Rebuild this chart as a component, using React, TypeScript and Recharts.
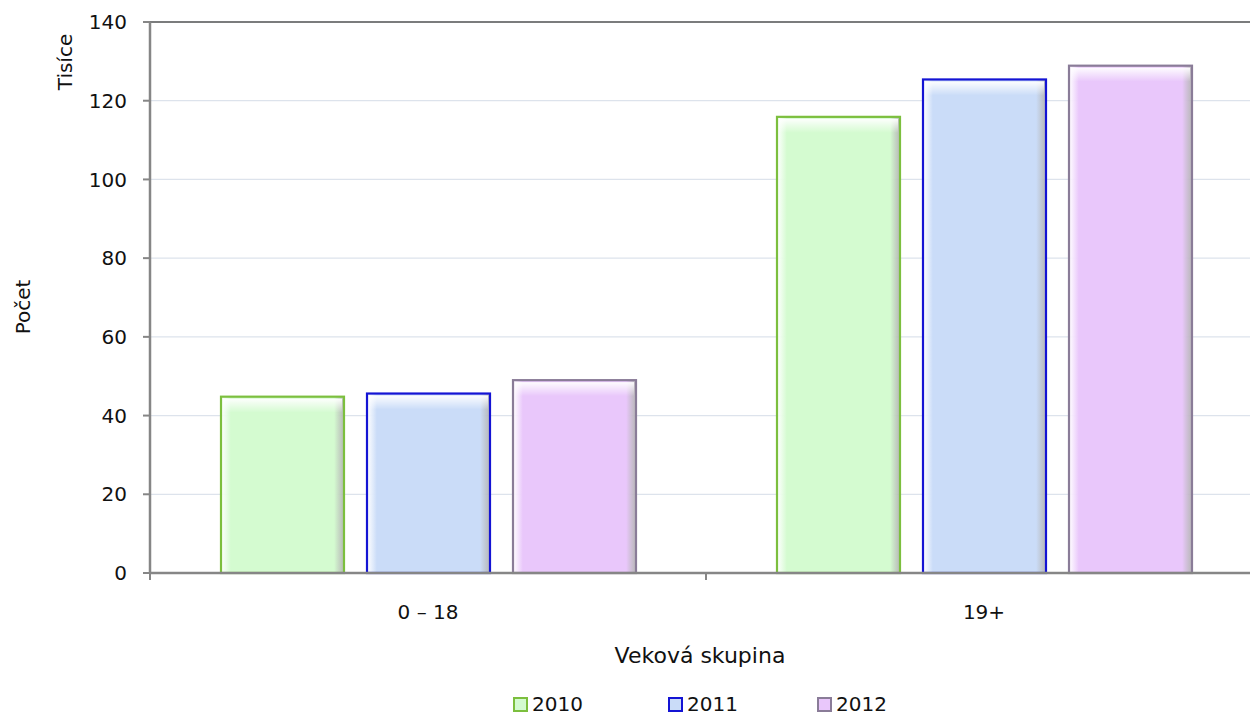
import React from 'react';
import { BarChart, Bar, XAxis, YAxis, CartesianGrid, ReferenceLine } from 'recharts';

const categories = ['0 – 18', '19+'];
const series2010 = [44.8, 115.9];
const series2011 = [45.6, 125.4];
const series2012 = [49.0, 128.9];
const yTicks = [0, 20, 40, 60, 80, 100, 120, 140];
const seriesNames = ['2010', '2011', '2012'];

const data = categories.map((c, i) => ({
  cat: c,
  '2010': series2010[i],
  '2011': series2011[i],
  '2012': series2012[i],
}));

const FONT = '"DejaVu Sans", sans-serif';
const FS = 20;
const CHART_W = 1270;
const MARGIN_R = 8;
const Y_W = 150;
const PLOT_W = CHART_W - MARGIN_R - Y_W;
const BAND = PLOT_W / categories.length;

const styles: Record<string, { fill: string; stroke: string; id: string }> = {
  '2010': { fill: '#d4fbd0', stroke: '#7cbf3e', id: 'g2010' },
  '2011': { fill: '#cadcf8', stroke: '#1414d4', id: 'g2011' },
  '2012': { fill: '#e9c7fb', stroke: '#8a7c98', id: 'g2012' },
};

const makeShape = (key: string) => (props: any) => {
  const { x, y, width, height } = props;
  const s = styles[key];
  if (!height || height <= 0) return <g />;
  return (
    <g>
      <rect x={x} y={y} width={width} height={height} fill={`url(#${s.id})`} stroke={s.stroke} strokeWidth={2.2} />
      <rect x={x + 2} y={y + 2} width={width - 4} height={Math.min(14, height - 4)} fill="url(#topHi)" />
    </g>
  );
};

const XTick = (props: any) => {
  const { x, y, payload } = props;
  const bx = x - BAND / 2;
  return (
    <g>
      <line x1={bx} x2={bx} y1={y - 7} y2={y} stroke="#868686" strokeWidth={2} />
      <text x={x} y={y + 39} textAnchor="middle" fill="#111" fontFamily={FONT} fontSize={FS}>
        {payload.value}
      </text>
    </g>
  );
};

export default function App() {
  return (
    <div style={{ position: 'fixed', left: 0, top: 0, width: 1250, height: 715, overflow: 'hidden', background: '#fff' }}>
      <BarChart
        width={CHART_W}
        height={715}
        data={data}
        margin={{ top: 22, right: MARGIN_R, bottom: 82, left: 0 }}
        barCategoryGap={71}
        barGap={23}
      >
        <defs>
          {Object.keys(styles).map((k) => (
            <linearGradient key={k} id={styles[k].id} x1="0" y1="0" x2="1" y2="0">
              <stop offset="0%" stopColor="#ffffff" stopOpacity={0.9} />
              <stop offset="8%" stopColor={styles[k].fill} />
              <stop offset="92%" stopColor={styles[k].fill} />
              <stop offset="100%" stopColor="#b0b0b0" stopOpacity={0.9} />
            </linearGradient>
          ))}
          <linearGradient id="topHi" x1="0" y1="0" x2="0" y2="1">
            <stop offset="0%" stopColor="#ffffff" stopOpacity={0.95} />
            <stop offset="100%" stopColor="#ffffff" stopOpacity={0} />
          </linearGradient>
        </defs>
        <CartesianGrid vertical={false} stroke="#dde3ec" strokeWidth={1.2} />
        <ReferenceLine y={140} stroke="#555" strokeWidth={1.5} />
        <XAxis
          dataKey="cat"
          height={60}
          tickSize={7}
          tickMargin={0}
          tickLine={false}
          axisLine={{ stroke: '#868686', strokeWidth: 2.5 }}
          tick={<XTick />}
          interval={0}
        />
        <YAxis
          width={Y_W}
          domain={[0, 140]}
          ticks={yTicks}
          tickSize={7}
          tickMargin={16}
          axisLine={{ stroke: '#868686', strokeWidth: 2.5 }}
          tickLine={{ stroke: '#868686', strokeWidth: 2 }}
          tick={{ fill: '#111', fontFamily: FONT, fontSize: FS }}
        />
        {seriesNames.map((k) => (
          <Bar key={k} dataKey={k} isAnimationActive={false} shape={makeShape(k)} />
        ))}
      </BarChart>
      <div style={{ position: 'absolute', left: 65, top: 62, transform: 'translate(-50%, -50%) rotate(-90deg)', fontFamily: FONT, fontSize: FS, color: '#111', whiteSpace: 'nowrap' }}>
        Tisíce
      </div>
      <div style={{ position: 'absolute', left: 23, top: 307, transform: 'translate(-50%, -50%) rotate(-90deg)', fontFamily: FONT, fontSize: FS, color: '#111', whiteSpace: 'nowrap' }}>
        Počet
      </div>
      <div style={{ position: 'absolute', left: 700, top: 655, transform: 'translate(-50%, -50%)', fontFamily: FONT, fontSize: 22, color: '#111', whiteSpace: 'nowrap' }}>
        Veková skupina
      </div>
      {seriesNames.map((k, i) => (
        <div key={k} style={{ position: 'absolute', left: [513, 668, 817][i], top: 693, lineHeight: '22px', display: 'flex', alignItems: 'center', fontFamily: FONT, fontSize: FS, color: '#111', whiteSpace: 'nowrap' }}>
          <span style={{ display: 'inline-block', width: 11, height: 11, border: `2px solid ${styles[k].stroke}`, background: styles[k].fill, marginRight: 4 }} />
          {k}
        </div>
      ))}
    </div>
  );
}
